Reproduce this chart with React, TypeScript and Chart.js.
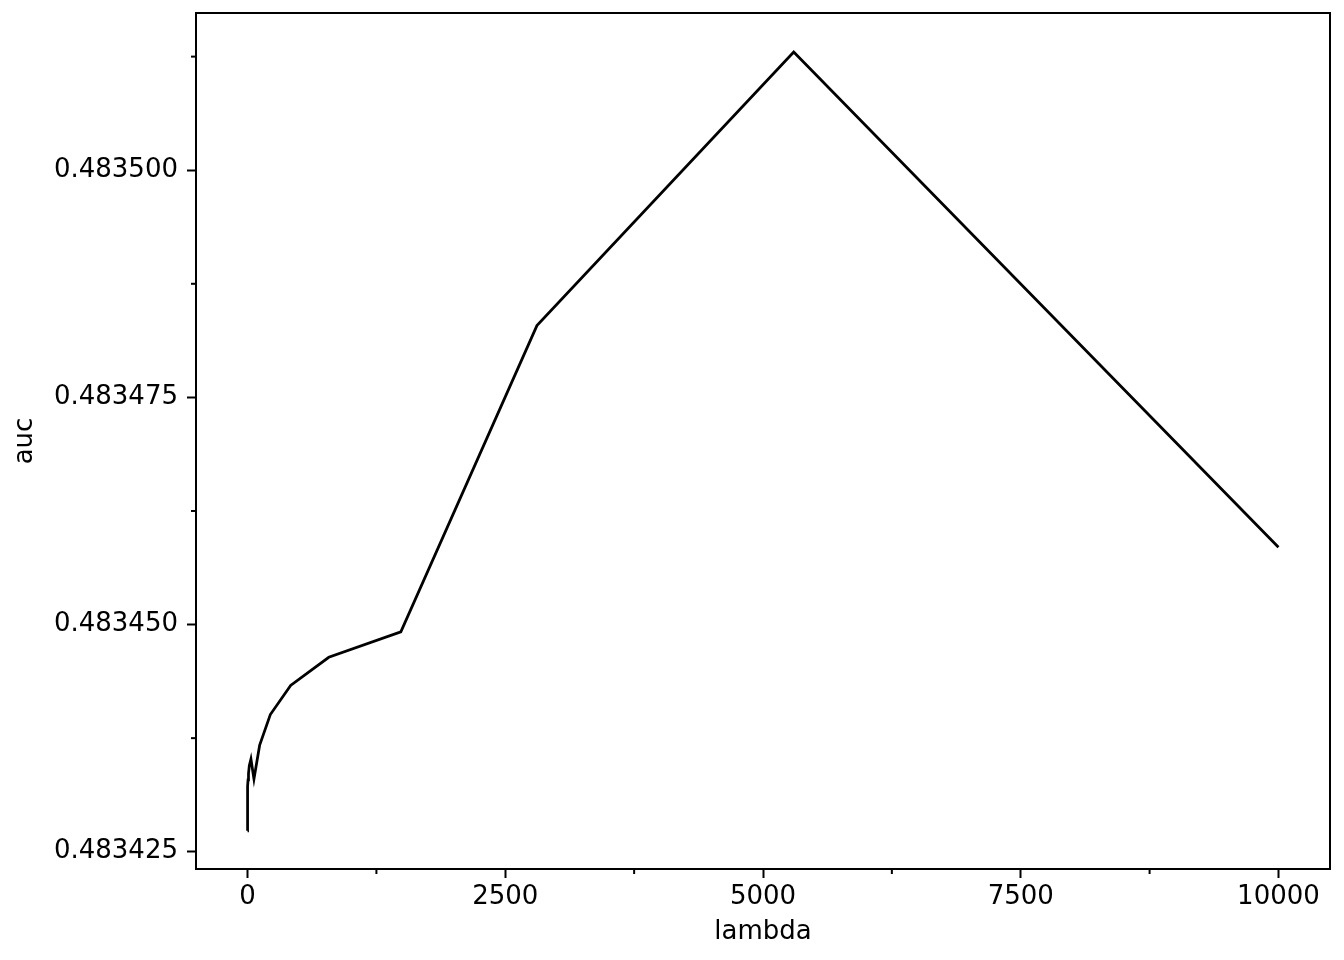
import { useEffect, useRef } from "react";
import { Chart, registerables } from "chart.js";
Chart.register(...registerables);

// lambda values (log-spaced grid) and the auc
const lambdas = [
  0.0001, 0.000189, 0.000356, 0.000672, 0.00127, 0.0024, 0.00452, 0.00853,
  0.0161, 0.0304, 0.0574, 0.108, 0.204, 0.386, 0.728, 1.37, 2.59, 4.89, 9.24,
  17.4, 32.9, 62.1, 117, 221, 418, 788, 1487, 2807, 5298, 10000,
];
const auc = [
  0.4834273, 0.4834273, 0.4834273, 0.4834274, 0.4834273, 0.4834274,
  0.4834274, 0.4834274, 0.4834275, 0.4834275, 0.4834276, 0.4834278,
  0.4834281, 0.4834287, 0.4834297, 0.483431, 0.4834322, 0.4834329,
  0.4834336, 0.4834345, 0.4834352, 0.483433, 0.4834367, 0.4834401,
  0.4834433, 0.4834464, 0.4834492, 0.4834829, 0.483513, 0.4834585,
];

const xMajor = [0, 2500, 5000, 7500, 10000];
const xMinor = [1250, 3750, 6250, 8750];
const yMajor = [0.483425, 0.48345, 0.483475, 0.4835];
const yMinor = [0.4834375, 0.4834625, 0.4834875, 0.4835125];

const FONT = { family: "DejaVu Sans", size: 26 };

const framePlugin = {
  id: "frame",
  afterDraw(chart: any) {
    const { ctx, chartArea, scales } = chart;
    const { left, right, top, bottom } = chartArea;
    ctx.save();
    ctx.strokeStyle = "#000";
    ctx.lineWidth = 2;
    ctx.strokeRect(left, top, right - left, bottom - top);
    xMinor.forEach((v) => {
      const px = scales.x.getPixelForValue(v);
      ctx.beginPath();
      ctx.moveTo(px, bottom);
      ctx.lineTo(px, bottom + 5);
      ctx.stroke();
    });
    yMinor.forEach((v) => {
      const py = scales.y.getPixelForValue(v);
      ctx.beginPath();
      ctx.moveTo(left, py);
      ctx.lineTo(left - 5, py);
      ctx.stroke();
    });
    ctx.restore();
  },
};

const App = () => {
  const ref = useRef<HTMLCanvasElement>(null);

  useEffect(() => {
    document.body.style.margin = "0";
    const chart = new Chart(ref.current!, {
      type: "line",
      data: {
        datasets: [
          {
            label: "auc",
            data: lambdas.map((l, i) => ({ x: l, y: auc[i] })),
            borderColor: "#000",
            borderWidth: 2.75,
            pointRadius: 0,
            tension: 0,
            fill: false,
          },
        ],
      },
      options: {
        animation: false,
        responsive: true,
        maintainAspectRatio: false,
        layout: { padding: { top: 13, right: 14, left: 0, bottom: 0 } },
        plugins: { legend: { display: false }, tooltip: { enabled: false } },
        scales: {
          x: {
            type: "linear",
            min: -500,
            max: 10500,
            afterBuildTicks: (s: any) => {
              s.ticks = xMajor.map((v) => ({ value: v }));
            },
            afterFit: (s: any) => {
              s.height = 91;
              s.paddingLeft = 0;
              s.paddingRight = 0;
            },
            ticks: {
              color: "#000",
              font: FONT,
              padding: 4,
              maxRotation: 0,
              callback: (v: any) => String(v),
            },
            grid: {
              drawOnChartArea: false,
              drawTicks: true,
              tickLength: 9,
              tickWidth: 2,
              tickColor: "#000",
            },
            border: { display: true, color: "#000", width: 2 },
            title: {
              display: true,
              text: "lambda",
              color: "#000",
              font: FONT,
              padding: { top: 0, bottom: 12 },
            },
          },
          y: {
            type: "linear",
            min: 0.4834231,
            max: 0.4835173,
            afterBuildTicks: (s: any) => {
              s.ticks = yMajor.map((v) => ({ value: v }));
            },
            afterFit: (s: any) => {
              s.width = 196;
              s.paddingTop = 0;
              s.paddingBottom = 0;
            },
            ticks: {
              color: "#000",
              font: FONT,
              padding: 9,
              callback: (v: any) => Number(v).toFixed(6),
            },
            grid: {
              drawOnChartArea: false,
              drawTicks: true,
              tickLength: 9,
              tickWidth: 2,
              tickColor: "#000",
            },
            border: { display: true, color: "#000", width: 2 },
            title: {
              display: true,
              text: "auc",
              color: "#000",
              font: FONT,
              padding: { top: 10, bottom: 0 },
            },
          },
        },
      },
      plugins: [framePlugin],
    } as any);
    return () => {
      chart.destroy();
    };
  }, []);

  return (
    <div style={{ position: "relative", width: 1344, height: 960, background: "#fff" }}>
      <canvas ref={ref}></canvas>
    </div>
  );
};
export default App;
